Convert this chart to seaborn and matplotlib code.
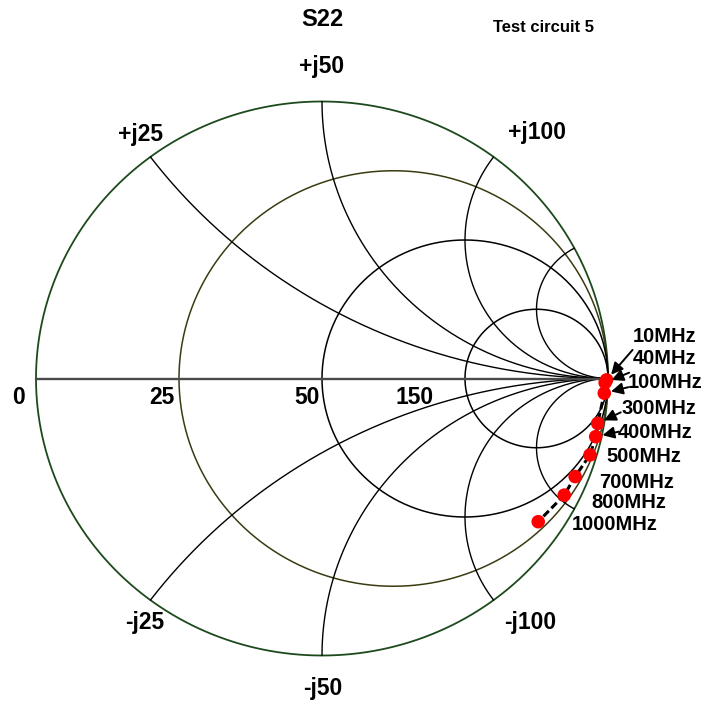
import numpy as np
import pandas as pd
import matplotlib
matplotlib.use("Agg")
import matplotlib.pyplot as plt
import seaborn as sns

# Measured output reflection coefficient S22 (real / imaginary parts)
freq_labels = ["10MHz", "40MHz", "100MHz", "300MHz", "400MHz",
               "500MHz", "700MHz", "800MHz", "1000MHz"]
gamma_re = [0.995, 0.990, 0.987, 0.964, 0.957, 0.937, 0.885, 0.847, 0.756]
gamma_im = [-0.005, -0.015, -0.053, -0.162, -0.210, -0.276, -0.354, -0.421, -0.517]

# Smith chart grid: normalised resistance circles and reactance arcs
resist_values = [0.0, 1.0 / 3.0, 1.0, 3.0]
react_values = [0.5, 1.0, 2.0, 4.0, -0.5, -1.0, -2.0, -4.0]
real_axis_labels = ["0", "25", "50", "150"]
imag_axis_labels = ["+j25", "+j50", "+j100", "-j25", "-j50", "-j100"]

df = pd.DataFrame({"freq": freq_labels, "re": gamma_re, "im": gamma_im})

sns.set_style("white")
plt.rcParams["font.family"] = ["Liberation Sans", "DejaVu Sans"]

W, H = 719, 706
CX, CY, RX, RY = 322.0, 378.5, 286.0, 277.0


def px(x, y):
    """Pixel position on the canvas -> reflection-coefficient coordinates."""
    return ((x - CX) / RX, (CY - y) / RY)


fig = plt.figure(figsize=(W / 100, H / 100), dpi=100)
ax = fig.add_axes([0, 0, 1, 1])
ax.set_xlim(px(0, 0)[0], px(W, 0)[0])
ax.set_ylim(px(0, H)[1], px(0, 0)[1])
ax.axis("off")

# resistance circles
theta = np.linspace(0, 2 * np.pi, 721)
r_colors = {0.0: "#1d4a1d", 1.0 / 3.0: "#3b3b12"}
for r in resist_values:
    c = r / (r + 1.0)
    rad = 1.0 / (r + 1.0)
    ax.plot(c + rad * np.cos(theta), rad * np.sin(theta),
            color=r_colors.get(r, "black"), lw=1.3 if r == 0 else 1.1, zorder=2)

# reactance arcs
t = np.concatenate([[0.0], np.logspace(-3, 4, 900)])
for xv in react_values:
    z = t + 1j * xv
    g = (z - 1) / (z + 1)
    ax.plot(g.real, g.imag, color="black", lw=1.0, zorder=2)

# real axis
ax.plot([-1, 1], [0, 0], color="#4a4a4a", lw=1.7, zorder=2)

# measured trace and points
sns.lineplot(data=df, x="re", y="im", sort=False, estimator=None, ax=ax,
             color="black", lw=2.2, dashes=False, linestyle=(0, (2.5, 1.2)),
             zorder=3, legend=False)
sns.scatterplot(data=df, x="re", y="im", ax=ax, color="#ff0000", s=95,
                edgecolor="none", zorder=4, legend=False)
ax.set_xlabel("")
ax.set_ylabel("")

bold = dict(fontweight="bold", color="black")

# titles
ax.text(*px(322, 20), "S22", ha="center", va="center", fontsize=17, **bold)
ax.text(*px(493, 27), "Test circuit 5", ha="left", va="center", fontsize=12, **bold)

# real-axis labels
for lab, (x, y) in zip(real_axis_labels, [(19, 398), (162, 398), (307, 398), (415, 397)]):
    ax.text(*px(x, y), lab, ha="center", va="center", fontsize=16.5, **bold)

# reactance labels
for lab, (x, y) in zip(imag_axis_labels,
                       [(141, 134), (322, 67), (537, 133),
                        (145, 622), (323, 688), (530, 622)]):
    ax.text(*px(x, y), lab, ha="center", va="center", fontsize=16.5, **bold)

# frequency labels
label_pos = [(633, 337), (633, 359), (628, 383), (622, 408), (618, 433),
             (606, 457), (599, 482), (591, 503), (572, 525)]
for lab, (x, y) in zip(freq_labels, label_pos):
    ax.text(*px(x, y), lab, ha="left", va="center", fontsize=14.5, **bold)

# arrows from labels to the low-frequency points
arrow_offsets = [(26, 30), (24, 10), (24, 6), (23, 11), (23, 5)]
for i, off in enumerate(arrow_offsets):
    ax.annotate("", xy=(gamma_re[i], gamma_im[i]), xytext=off,
                textcoords="offset pixels",
                arrowprops=dict(arrowstyle="-|>,head_length=0.7,head_width=0.35",
                                color="black", lw=1.4, shrinkA=0, shrinkB=5),
                zorder=5)

fig.savefig("out.png", dpi=100)
